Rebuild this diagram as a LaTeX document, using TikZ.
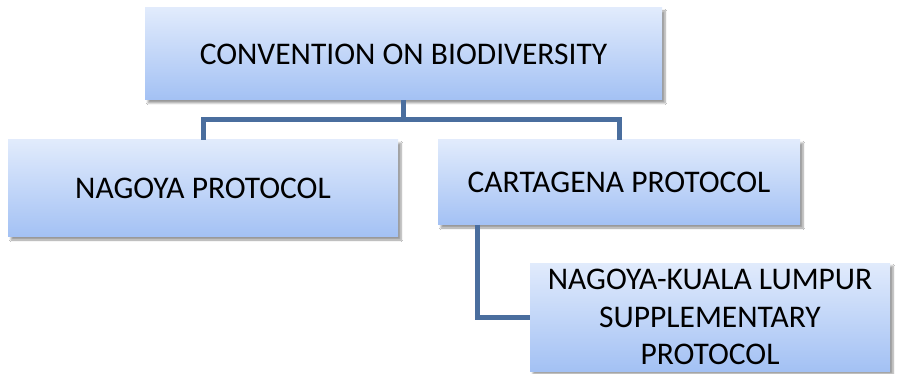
\documentclass[tikz,border=0pt]{standalone}
\usepackage{fontspec}
\setmainfont{Carlito}
\usetikzlibrary{shadows.blur}
\definecolor{boxtop}{HTML}{E1EBFC}
\definecolor{boxbot}{HTML}{A3C1F4}
\definecolor{link}{HTML}{4A6E9E}
\tikzset{
  box/.style={rectangle, inner sep=0pt, top color=boxtop, bottom color=boxbot,
    blur shadow={shadow xshift=3pt, shadow yshift=-3pt, shadow blur steps=6, shadow opacity=40},
    font=\fontsize{31.5}{37.5}\selectfont, align=center, text=black},
  conn/.style={draw=link, line width=5pt}
}
\begin{document}
\begin{tikzpicture}[x=1pt,y=-1pt]
\useasboundingbox[fill=white] (0,0) rectangle (897,374);
\node[box, minimum width=517pt, minimum height=92pt] (cbd) at (403.5,54) {CONVENTION ON BIODIVERSITY};
\node[box, minimum width=390pt, minimum height=97pt] (nag) at (203,188.5) {NAGOYA PROTOCOL};
\node[box, minimum width=362pt, minimum height=85pt] (car) at (619,182.5) {CARTAGENA PROTOCOL};
\node[box, minimum width=360pt, minimum height=108pt] (nkl) at (710,317) {NAGOYA-KUALA LUMPUR\\SUPPLEMENTARY\\PROTOCOL};
\draw[conn] (cbd.south) -- (403.5,120) coordinate (mid);
\draw[conn, line cap=rect] (nag.north |- mid) -- (car.north |- mid);
\draw[conn] (nag.north |- mid) -- (nag.north);
\draw[conn] (car.north |- mid) -- (car.north);
\draw[conn] (477,225) coordinate (cs) -- (cs |- nkl.west) -- (nkl.west);
\end{tikzpicture}
\end{document}
